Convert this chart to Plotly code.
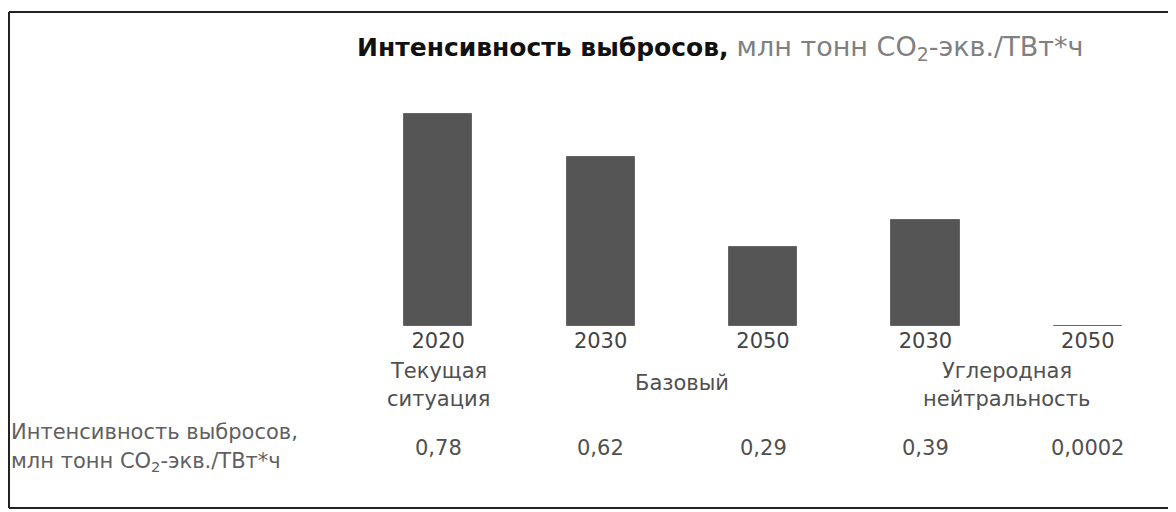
import plotly.graph_objects as go

# ---- data ----
years = ["2020", "2030", "2050", "2030", "2050"]
values = [0.78, 0.62, 0.29, 0.39, 0.0002]
value_labels = ["0,78", "0,62", "0,29", "0,39", "0,0002"]
groups = [["Текущая", "ситуация"], ["Базовый"], ["Углеродная", "нейтральность"]]
group_members = [[0], [1, 2], [3, 4]]
title_bold = "Интенсивность выбросов,"
title_unit = "млн тонн CO<sub>2</sub>-экв./ТВт*ч"
row_label = ["Интенсивность выбросов,", "млн тонн CO<sub>2</sub>-экв./ТВт*ч"]

OFF = 8  # page body margin
W, H = 1176 - OFF, 512 - OFF
ML, MR, MT, MB = 357 - OFF, 7, 100 - OFF, 186
PLOT_W = W - ML - MR
PLOT_H = H - MT - MB
BASE_PX = 326  # in screen pixels

FONT = "DejaVu Sans"
TXT = "#505050"
BAR = "#555555"

def py(screen_y):
    """screen pixel row -> paper y coordinate"""
    return (BASE_PX - screen_y) / PLOT_H

def pxx(screen_x):
    return (screen_x - OFF - ML) / PLOT_W

xs = list(range(len(values)))

fig = go.Figure()
fig.add_trace(go.Bar(
    x=xs, y=values, width=0.42,
    marker=dict(color=BAR, line=dict(color="#666666", width=1)),
    hoverinfo="skip", showlegend=False,
))

ann = []
group_line_y = {1: [383], 2: [371, 399]}
for g, members in zip(groups, group_members):
    cx = sum(members) / len(members)
    for line, yy in zip(g, group_line_y[len(g)]):
        ann.append(dict(x=cx, xref="x", y=py(yy), yref="paper", text=line,
                        showarrow=False, xanchor="center", yanchor="middle",
                        font=dict(family=FONT, size=21, color=TXT)))
for i, lab in enumerate(value_labels):
    ann.append(dict(x=i, xref="x", y=py(448), yref="paper", text=lab,
                    showarrow=False, xanchor="center", yanchor="middle",
                    font=dict(family=FONT, size=21, color=TXT)))
for line, yy in zip(row_label, [432, 462]):
    ann.append(dict(x=pxx(9), xref="paper", y=py(yy), yref="paper", text=line,
                    showarrow=False, xanchor="left", yanchor="middle",
                    font=dict(family=FONT, size=21, color="#606060")))

shapes = [
    dict(type="line", xref="paper", yref="paper", x0=pxx(9), x1=pxx(1176), y0=py(12), y1=py(12),
         line=dict(color="#222222", width=2)),
    dict(type="line", xref="paper", yref="paper", x0=pxx(9), x1=pxx(9), y0=py(12), y1=py(508),
         line=dict(color="#222222", width=2)),
    dict(type="line", xref="paper", yref="paper", x0=pxx(9), x1=pxx(1176), y0=py(508), y1=py(508),
         line=dict(color="#222222", width=2)),
    dict(type="line", xref="paper", yref="paper", x0=pxx(1174), x1=pxx(1174), y0=py(12), y1=py(508),
         line=dict(color="#e0e0e0", width=1)),
]

fig.update_layout(
    width=W, height=H,
    margin=dict(l=ML, r=MR, t=MT, b=MB, pad=0),
    paper_bgcolor="white", plot_bgcolor="white",
    title=dict(
        text=(f"<b>{title_bold}</b> "
              f"<span style='color:#808080;font-size:27px'>{title_unit}</span>"),
        xref="paper", x=0, xanchor="left",
        yref="container", y=1 - (47 - OFF) / H, yanchor="middle",
        font=dict(family=FONT, size=25, color="#111111"),
    ),
    xaxis=dict(
        range=[-0.5, len(values) - 0.5], tickvals=xs, ticktext=years,
        showline=False, showgrid=False, zeroline=False, ticks="",
        tickfont=dict(family=FONT, size=21, color="#444444"), fixedrange=True,
    ),
    yaxis=dict(range=[0, PLOT_H / 272], visible=False, fixedrange=True),
    annotations=ann, shapes=shapes,
    bargap=0,
)

fig.write_html("out.html")
